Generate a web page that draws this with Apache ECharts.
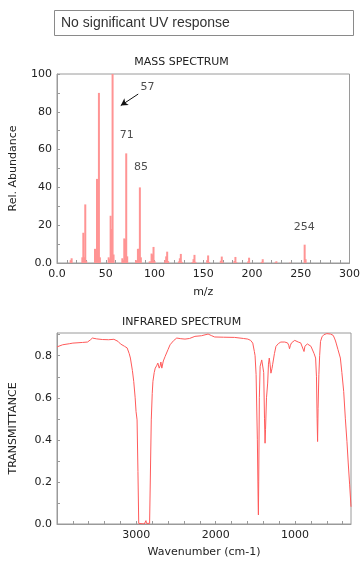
<!DOCTYPE html>
<html><head><meta charset="utf-8">
<script src="https://cdn.jsdelivr.net/npm/echarts@6/dist/echarts.min.js"></script>
<style>html,body{margin:0;padding:0;background:#fff}#c{width:363px;height:566px}</style>
</head><body><div id="c"></div>
<script>
// Mass spectrum peaks
const msMz = [14,15,26,27,28,29,30,39,40,41,42,43,44,53,54,55,56,57,58,67,68,69,70,71,72,81,82,83,84,85,86,95,96,97,98,99,100,111,112,113,114,125,126,127,128,139,140,141,142,154,155,156,168,169,170,182,183,184,196,197,210,211,224,225,239,254,255];
const msAbund = [1.5,2.5,3,16,3,31,1,7.5,1.5,44.5,15,90,3,3,2,25,18,100,4.5,2.5,1.5,13,12.5,58,3.5,1.5,1,7.5,7.5,40,3,0.8,0.8,5,4.5,8.5,1,1.5,3.5,6,1,0.8,2.5,4.8,0.6,0.5,2,4.3,0.6,1.5,4,0.5,1.2,3.4,0.5,1,3.2,0.4,0.8,2.8,0.6,2,0.3,0.9,0.2,9.7,2];
const msXTicks = [0,50,100,150,200,250,300];
const msYTicks = [0,20,40,60,80,100];
const annText = ['57','71','85','254'];
const annX = [92.7,71.6,86.1,253.5];
const annY = [92.9,67.5,50.9,18.9];
// IR spectrum
const irWave = [4000,3929,3845,3800,3680,3616,3580,3554,3500,3429,3350,3283,3230,3200,3150,3116,3090,3075,3050,3033,3015,3004,2991,2980,2970,2950,2900,2885,2879,2872,2850,2833,2812,2800,2791,2775,2762,2745,2729,2712,2700,2691,2679,2660,2637,2600,2575,2530,2491,2440,2387,2330,2262,2180,2096,2050,2013,1900,1762,1650,1595,1560,1533,1513,1504,1491,1475,1465,1462,1458,1450,1440,1420,1408,1395,1385,1378,1372,1360,1345,1335,1325,1315,1304,1290,1283,1260,1241,1210,1179,1130,1095,1080,1070,1058,1045,1020,1004,960,929,905,887,876,866,845,825,800,783,760,741,730,722,716,710,700,690,679,660,637,600,554,520,504,490,479,460,429,410,387,366,346,330,312,295];
const irTrans = [0.842,0.852,0.857,0.86,0.863,0.865,0.875,0.884,0.88,0.877,0.876,0.878,0.868,0.856,0.845,0.837,0.81,0.789,0.73,0.678,0.6,0.535,0.495,0.25,0.003,0,0,0.003,0.016,0.003,0,0.003,0.495,0.62,0.678,0.72,0.741,0.752,0.765,0.741,0.752,0.77,0.741,0.775,0.797,0.83,0.852,0.872,0.884,0.881,0.879,0.882,0.892,0.895,0.903,0.895,0.889,0.888,0.887,0.882,0.879,0.873,0.86,0.82,0.8,0.71,0.4,0.1,0.043,0.2,0.6,0.75,0.78,0.781,0.72,0.5,0.384,0.45,0.6,0.67,0.76,0.789,0.76,0.717,0.74,0.757,0.81,0.844,0.858,0.865,0.865,0.861,0.85,0.833,0.85,0.861,0.868,0.873,0.865,0.861,0.855,0.82,0.845,0.852,0.856,0.855,0.845,0.836,0.81,0.789,0.7,0.5,0.392,0.55,0.71,0.8,0.868,0.89,0.9,0.905,0.903,0.897,0.884,0.87,0.856,0.83,0.789,0.72,0.63,0.5,0.392,0.29,0.186,0.082];
const irXLabels = [3000,2000,1000];
const irXTicks = [3800,3600,3400,3200,3000,2800,2600,2400,2200,2000,1800,1600,1400,1200,1000,800,600,400];
const irYLabels = [0,0.2,0.4,0.6,0.8];
const irYTicks = [0,0.1,0.2,0.3,0.4,0.5,0.6,0.7,0.8,0.9];

const F = 'DejaVu Sans';
const axisLine = {lineStyle:{color:'#9a9a9a',width:1}};
const tick = (vals)=>({show:true,inside:true,length:3,lineStyle:{color:'#9a9a9a'},customValues:vals});
const lbl = (vals,fmt)=>({customValues:vals,fontFamily:F,fontSize:11,color:'#222',margin:6,formatter:fmt});

const chart = echarts.init(document.getElementById('c'));
chart.setOption({
  animation:false,
  title:[
    {text:'MASS SPECTRUM',left:'center',top:57,padding:0,textStyle:{fontFamily:F,fontSize:11,fontWeight:'normal',color:'#222'}},
    {text:'INFRARED SPECTRUM',left:'center',top:317,padding:0,textStyle:{fontFamily:F,fontSize:11,fontWeight:'normal',color:'#222'}}
  ],
  graphic:[
    {type:'rect',shape:{x:54.5,y:10.5,width:299,height:25},style:{fill:'#fff',stroke:'#8a8a8a',lineWidth:1}},
    {type:'text',x:61,y:23,style:{text:'No significant UV response',font:'14px "Liberation Sans"',fill:'#333',textVerticalAlign:'middle'}}
  ],
  grid:[
    {left:54,top:74,width:297,height:189,show:true,borderColor:'#9a9a9a',borderWidth:1,backgroundColor:'transparent'},
    {left:54,top:333,width:297,height:191,show:true,borderColor:'#9a9a9a',borderWidth:1,backgroundColor:'transparent'}
  ],
  xAxis:[
    {type:'value',gridIndex:0,min:0,max:300,interval:50,name:'m/z',nameLocation:'middle',nameGap:24,
     nameTextStyle:{fontFamily:F,fontSize:11,color:'#222'},axisLine:axisLine,splitLine:{show:false},
     axisTick:tick([0,10,20,30,40,50,60,70,80,90,100,110,120,130,140,150,160,170,180,190,200,210,220,230,240,250,260,270,280,290,300]),
     axisLabel:lbl(msXTicks,v=>v===0?'0.0':String(v))},
    {type:'value',gridIndex:1,min:295,max:4000,inverse:true,name:'Wavenumber (cm-1)',nameLocation:'middle',nameGap:23,
     nameTextStyle:{fontFamily:F,fontSize:11,color:'#222'},axisLine:axisLine,splitLine:{show:false},
     axisTick:tick(irXTicks),axisLabel:lbl(irXLabels,v=>String(v))}
  ],
  yAxis:[
    {type:'value',gridIndex:0,min:0,max:100,name:'Rel. Abundance',nameLocation:'middle',nameGap:38,
     nameTextStyle:{fontFamily:F,fontSize:11,color:'#222'},axisLine:{show:true,lineStyle:{color:'#9a9a9a'}},splitLine:{show:false},
     axisTick:tick([0,10,20,30,40,50,60,70,80,90,100]),axisLabel:Object.assign(lbl(msYTicks,v=>v===0?'0.0':String(v)),{margin:5})},
    {type:'value',gridIndex:1,min:0,max:0.908,name:'TRANSMITTANCE',nameLocation:'middle',nameGap:38,
     nameTextStyle:{fontFamily:F,fontSize:11,color:'#222'},axisLine:{show:true,lineStyle:{color:'#9a9a9a'}},splitLine:{show:false},
     axisTick:tick(irYTicks),axisLabel:Object.assign(lbl(irYLabels,v=>v.toFixed(1)),{margin:5})}
  ],
  series:[
    {type:'bar',xAxisIndex:0,yAxisIndex:0,barWidth:2,itemStyle:{color:'#ff9494'},
     data:msMz.map((m,i)=>[m,msAbund[i]]),
     markLine:{silent:true,symbol:['none','arrow'],symbolSize:[6,7],label:{show:false},
       lineStyle:{color:'#111',width:1,type:'solid'},
       data:[[{coord:[83.3,89.4]},{coord:[65.4,83.3]}]]}},
    {type:'scatter',xAxisIndex:0,yAxisIndex:0,symbolSize:0,silent:true,
     data:annX.map((x,i)=>[x,annY[i],annText[i]]),
     label:{show:true,position:'inside',formatter:p=>p.value[2],fontFamily:F,fontSize:11,color:'#222'}},
    {type:'line',xAxisIndex:1,yAxisIndex:1,showSymbol:false,symbol:'none',
     lineStyle:{color:'#ff5a5a',width:1},
     data:irWave.map((w,i)=>[w,irTrans[i]])}
  ]
});
</script></body></html>
